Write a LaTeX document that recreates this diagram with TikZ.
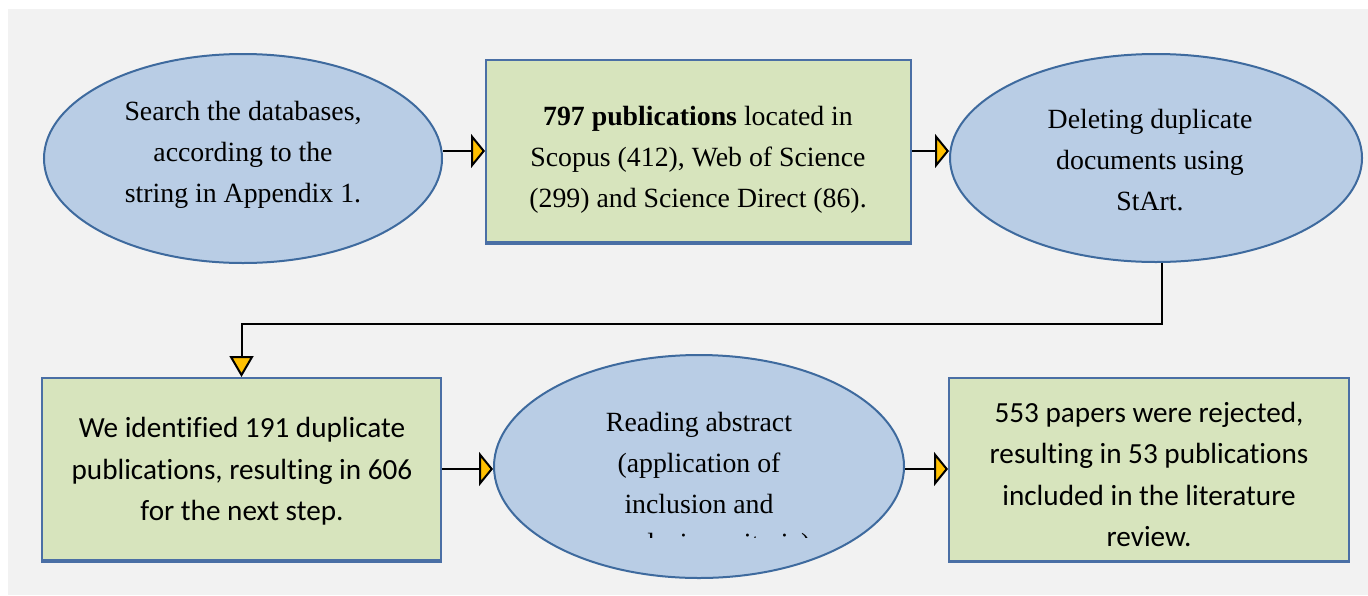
\documentclass[tikz,border=0pt]{standalone}
\usepackage{fontspec}
\setmainfont{Liberation Serif}
\newfontfamily\calibri[Ligatures=NoCommon]{Carlito}
\usetikzlibrary{arrows.meta,shapes.geometric}
\definecolor{bg}{HTML}{F2F2F2}
\definecolor{ellfill}{HTML}{B9CDE5}
\definecolor{ellborder}{HTML}{3E6A9E}
\definecolor{boxfill}{HTML}{D7E4BD}
\definecolor{boxborder}{HTML}{4A6FA5}
\definecolor{arrowyellow}{HTML}{FFC000}
\begin{document}
\begin{tikzpicture}[x=0.5pt,y=-0.5pt,
 ellbox/.style={ellipse,draw=ellborder,fill=ellfill,line width=1pt,inner sep=0pt},
 rectbox/.style={rectangle,draw=boxborder,fill=boxfill,line width=1pt,inner sep=0pt},
 serift/.style={align=center,font=\fontsize{13.9}{20.5}\selectfont,inner sep=0pt},
 sanst/.style={align=center,font=\calibri\fontsize{14.6}{20.75}\selectfont,inner sep=0pt},
 harr/.style={line width=1pt,-{Triangle[length=7pt,width=17pt,fill=arrowyellow]}},
 darr/.style={line width=1pt,-{Triangle[length=10.5pt,width=12pt,fill=arrowyellow]}},
 shadowedge/.style={draw=boxborder,line width=1.6pt}
]
\useasboundingbox (0,0) rectangle (1368,595);
\fill[bg] (8,9) rectangle (1368,595);

% shapes
\node[ellbox,minimum width=199pt,minimum height=104.5pt] (e1) at (243,158.5) {};
\node[rectbox,minimum width=212.5pt,minimum height=91pt] (b1) at (698.5,151) {};
\node[ellbox,minimum width=206pt,minimum height=104pt] (e2) at (1156,158) {};
\node[rectbox,minimum width=199.5pt,minimum height=91pt] (b4) at (241.5,469) {};
\node[ellbox,minimum width=205pt,minimum height=111.5pt] (e3) at (699,466.5) {};
\node[rectbox,minimum width=200pt,minimum height=91.5pt] (b6) at (1149,469) {};

\draw[shadowedge] (b1.south west) -- (b1.south east);
\draw[shadowedge] (b4.south west) -- (b4.south east);
\draw[shadowedge] (b6.south west) -- (b6.south east);

% texts
\node[serift] (t1) at (243,155) {Search the databases,\\according to the\\string in Appendix 1.};
\node[serift] (t2) at (698,160) {\textbf{797 publications} located in\\Scopus (412), Web of Science\\(299) and Science Direct (86).};
\node[serift] (t3) at (1150,160) {Deleting duplicate\\documents using\\StArt.};
\node[sanst] (t4) at (242,471.5) {We identified 191 duplicate\\publications, resulting in 606\\for the next step.};
\node[serift] (t5) at (699,462.5) {Reading abstract\\(application of\\inclusion and};
\begin{scope}
\clip (494,355) rectangle (904,537);
\node[serift,anchor=base] (t5b) at (713,552) {exclusion criteria).};
\end{scope}
\node[sanst] (t6) at (1149,474.5) {553 papers were rejected,\\resulting in 53 publications\\included in the literature\\review.};

% connectors
\draw[harr] (e1.east |- b1.west) -- (b1.west);
\draw[harr] (b1.east) -- (b1.east -| e2.west);
\draw[darr] ([xshift=3pt]e2.south) -- ++(0,61) -| (b4.north);
\draw[harr] (b4.east) -- (b4.east -| e3.west);
\draw[harr] (e3.east |- b6.west) -- (b6.west);
\end{tikzpicture}
\end{document}
